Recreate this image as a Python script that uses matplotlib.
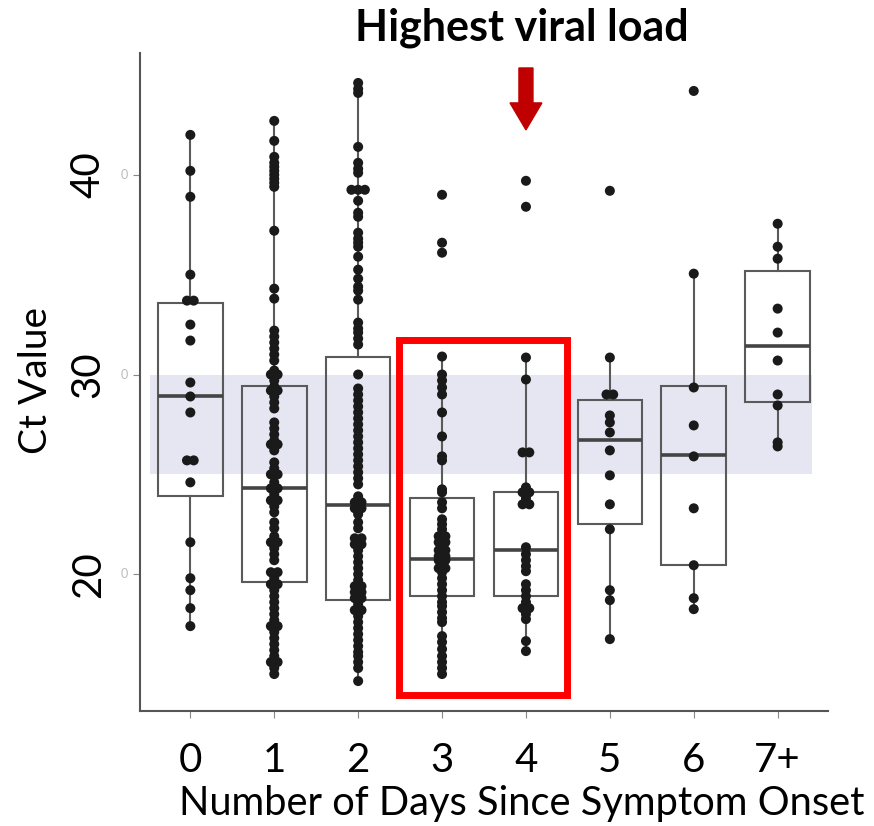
import matplotlib
matplotlib.use("Agg")
import matplotlib.pyplot as plt
from matplotlib.patches import Rectangle, FancyArrow
from matplotlib.transforms import blended_transform_factory
import numpy as np

plt.rcParams['font.family'] = ['Lato', 'DejaVu Sans']

categories = ["0", "1", "2", "3", "4", "5", "6", "7+"]

day0 = [42.0, 40.2, 38.9, 35.0, 33.7, 33.7, 32.5, 31.7, 29.6, 28.9, 28.1, 25.7, 25.7,
        24.6, 21.6, 19.8, 19.2, 18.3, 17.4]
day1 = [42.7, 41.7, 40.9, 40.6, 40.4, 40.2, 40.0, 39.8, 39.6, 39.4, 37.2, 34.3, 33.8,
        32.2, 31.9, 31.6, 31.3, 31.0, 30.7, 30.2, 30.0, 30.0, 29.7, 29.4, 29.2, 29.2,
        28.9, 28.6, 28.3, 27.6, 27.3, 27.0, 26.7, 26.5, 26.5, 26.2, 25.6, 25.3, 25.0,
        25.0, 24.6, 24.3, 24.3, 24.0, 23.7, 23.7, 23.4, 23.1, 22.6, 22.3, 21.9, 21.6,
        21.6, 21.3, 21.0, 20.7, 20.1, 20.1, 19.8, 19.5, 19.5, 19.2, 18.9, 18.6, 18.3,
        18.0, 17.7, 17.4, 17.4, 17.1, 16.8, 16.5, 16.2, 15.9, 15.6, 15.6, 15.3, 15.0]
day2 = [44.6, 44.3, 44.1, 41.4, 40.6, 40.3, 40.1, 39.25, 39.25, 39.25, 38.7, 38.1, 37.9,
        37.1, 36.8, 36.6, 36.4, 35.9, 35.25, 34.8, 34.4, 34.2, 33.75, 32.6, 32.3, 32.1,
        31.8, 31.5, 30.0, 29.3, 29.0, 28.7, 28.4, 28.1, 27.8, 27.5, 27.2, 26.9, 26.6,
        26.3, 26.0, 25.7, 25.4, 25.1, 24.8, 24.5, 23.9, 23.6, 23.6, 23.3, 23.3, 23.0,
        22.6, 22.3, 21.8, 21.8, 21.5, 21.5, 21.2, 20.9, 20.6, 20.3, 20.0, 19.7, 19.4,
        19.4, 19.1, 19.1, 18.8, 18.8, 18.5, 18.2, 18.2, 17.9, 17.6, 17.3, 17.0, 16.7,
        16.4, 16.1, 15.9, 15.6, 15.3, 14.65]
day3 = [39.0, 36.6, 36.1, 30.9, 30.0, 29.7, 29.35, 29.0, 28.1, 26.9, 25.9, 25.7, 24.25,
        24.1, 23.6, 23.3, 22.75, 22.5, 22.25, 21.9, 21.9, 21.6, 21.6, 21.4, 21.2, 21.2,
        21.0, 20.9, 20.9, 20.7, 20.7, 20.5, 20.3, 20.3, 20.1, 19.8, 19.5, 19.2, 18.9,
        18.6, 18.4, 18.1, 17.8, 17.6, 16.9, 16.6, 16.25, 15.9, 15.6, 15.3, 15.0]
day4 = [39.7, 38.4, 30.85, 29.75, 26.1, 26.1, 24.35, 24.1, 24.1, 23.8, 23.5, 23.5, 21.35,
        21.0, 20.7, 20.4, 20.15, 19.5, 19.2, 18.9, 18.6, 18.3, 18.3, 18.0, 17.75, 16.65,
        16.15]
day5 = [39.2, 30.85, 29.0, 29.0, 27.95, 27.6, 27.1, 26.2, 24.95, 23.5, 22.25, 19.2, 18.7,
        16.75]
day6 = [44.2, 35.05, 29.35, 27.45, 25.9, 23.3, 20.45, 18.8, 18.25]
day7 = [37.55, 36.4, 35.8, 33.3, 32.1, 30.7, 29.0, 28.45, 26.6, 26.4]

# box statistics
q1 = [23.9, 19.6, 18.7, 18.9, 18.9, 22.5, 20.45, 28.6]
medians = [28.9, 24.3, 23.45, 20.75, 21.2, 26.7, 25.95, 31.45]
q3 = [33.6, 29.4, 30.9, 23.8, 24.1, 28.7, 29.4, 35.2]
whisker_low = [17.4, 15.0, 14.65, 15.0, 16.15, 16.75, 18.25, 26.4]
whisker_high = [42.0, 42.7, 44.6, 30.9, 30.85, 30.85, 35.05, 37.55]

groups = [day0, day1, day2, day3, day4, day5, day6, day7]

fig = plt.figure(figsize=(8.74, 8.26), dpi=100)
ax = fig.add_axes([140 / 874, 1 - 711 / 826, 688 / 874, (711 - 53) / 826])
ax.set_xlim(-0.6, 7.6)
ax.set_ylim(13.15, 46.1)

# reference band 25-30
ax.axhspan(25, 30, xmin=0.0145, xmax=0.977, color='#E6E6F2', zorder=0, lw=0)

stats = []
for i in range(len(categories)):
    stats.append(dict(med=medians[i], q1=q1[i], q3=q3[i],
                      whislo=whisker_low[i], whishi=whisker_high[i], fliers=[]))
ax.bxp(stats, positions=range(len(categories)), widths=0.77, showcaps=False,
       showfliers=False, patch_artist=True,
       boxprops=dict(facecolor='none', edgecolor='#5a5a5a', linewidth=1.5),
       whiskerprops=dict(color='#5a5a5a', linewidth=1.5),
       medianprops=dict(color='#444444', linewidth=2.6),
       zorder=1)

step = 0.08
for i, vals in enumerate(groups):
    v = np.sort(np.array(vals))
    xs = np.zeros_like(v)
    j = 0
    while j < len(v):
        k = j
        while k + 1 < len(v) and abs(v[k + 1] - v[j]) < 0.05:
            k += 1
        n = k - j + 1
        xs[j:k + 1] = i + (np.arange(n) - (n - 1) / 2) * step
        j = k + 1
    ax.scatter(xs, v, s=52, color='#1a1a1a', edgecolors='none', zorder=3)

# red highlight rectangle
ax.add_patch(Rectangle((2.482, 13.93), 4.488 - 2.482, 31.75 - 13.93, fill=False,
                       edgecolor='#FF0000', linewidth=5, zorder=4, clip_on=False))

# red arrow
ax.add_patch(FancyArrow(4, 45.35, 0, -3.1, width=0.167, head_width=0.38,
                        head_length=1.35, length_includes_head=True,
                        color='#C00000', zorder=4, clip_on=False))

for s in ['top', 'right']:
    ax.spines[s].set_visible(False)
for s in ['left', 'bottom']:
    ax.spines[s].set_color('#555555')
    ax.spines[s].set_linewidth(1.5)

ax.set_xticks(range(len(categories)))
ax.set_xticklabels(categories, fontsize=29)
ax.tick_params(axis='x', length=5, color='#888888', pad=17)
ax.set_yticks([20, 30, 40])
ax.set_yticklabels(["20", "30", "40"], fontsize=29, rotation=90, va='center')
ax.tick_params(axis='y', length=5, color='#888888', pad=19)

# faint small tick labels next to the axis
trans = blended_transform_factory(fig.transFigure, ax.transData)
for yv in [20, 30, 40]:
    fig.text(124 / 874, yv, "0", transform=trans, fontsize=9, color='#bbbbbb',
             ha='center', va='center')

fig.text(36 / 874, 1 - 380 / 826, "Ct Value", rotation=90, fontsize=28,
         ha='center', va='center')
fig.text(522 / 874, 1 - 803 / 826, "Number of Days Since Symptom Onset", fontsize=28.7,
         ha='center', va='center')
fig.text(522 / 874, 1 - 28 / 826, "Highest viral load", fontsize=31, fontweight='bold',
         ha='center', va='center')

fig.savefig("out.png", dpi=100)
